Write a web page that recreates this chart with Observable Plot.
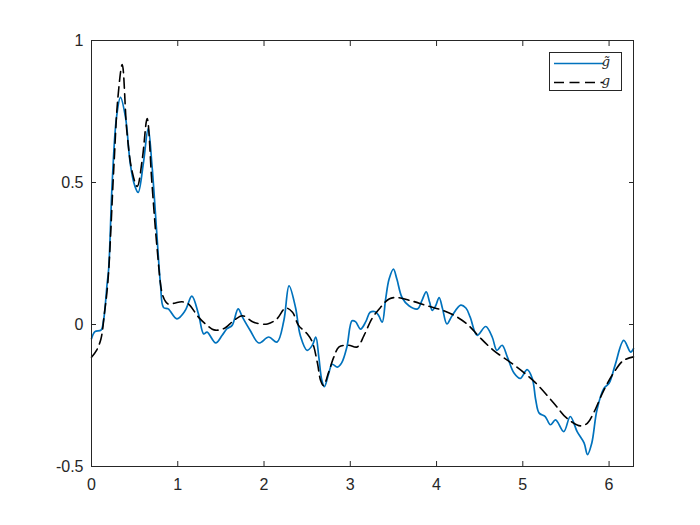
<!DOCTYPE html>
<html>
<head>
<meta charset="utf-8">
<script src="https://cdn.jsdelivr.net/npm/d3@7"></script>
<script src="https://cdn.jsdelivr.net/npm/@observablehq/plot@0.6"></script>
<style>
  html, body { margin: 0; padding: 0; background: #fff; }
  #chart { width: 700px; height: 525px; }
</style>
</head>
<body>
<div id="chart"></div>
<script>
// g-tilde (blue, solid)
const tTilde = [0,0.04,0.11,0.14,0.18,0.2,0.24,0.29,0.336,0.394,0.45,0.50,0.541,0.60,0.657,0.70,0.755,0.80,0.835,0.89,0.99,1.086,1.163,1.24,1.30,1.34,1.44,1.515,1.57,1.63,1.70,1.75,1.84,1.94,2.055,2.15,2.23,2.29,2.365,2.42,2.50,2.56,2.60,2.635,2.67,2.70,2.75,2.79,2.85,2.90,2.96,3.02,3.06,3.12,3.18,3.23,3.29,3.33,3.37,3.41,3.45,3.50,3.54,3.60,3.68,3.78,3.83,3.88,3.92,3.95,3.99,4.03,4.07,4.12,4.18,4.28,4.34,4.39,4.47,4.57,4.645,4.70,4.76,4.82,4.90,4.97,5.05,5.11,5.15,5.19,5.26,5.32,5.38,5.475,5.55,5.63,5.71,5.75,5.80,5.86,5.94,6.00,6.07,6.17,6.25,6.283];
const gTilde = [-0.05,-0.025,-0.02,0.015,0.14,0.2,0.5,0.73,0.80,0.73,0.565,0.49,0.465,0.565,0.69,0.565,0.33,0.14,0.06,0.055,0.02,0.049,0.10,0.037,-0.033,-0.027,-0.065,-0.038,-0.015,-0.003,0.055,0.026,-0.021,-0.065,-0.044,-0.062,0.014,0.136,0.06,-0.038,-0.091,-0.073,-0.044,-0.114,-0.196,-0.219,-0.172,-0.14,-0.15,-0.135,-0.08,0.013,0.01,-0.016,0.01,0.043,0.045,0.031,0.008,0.09,0.16,0.195,0.16,0.095,0.066,0.055,0.084,0.115,0.078,0.05,0.066,0.095,0.055,0.002,0.031,0.068,0.058,0.026,-0.038,-0.007,-0.044,-0.091,-0.073,-0.114,-0.172,-0.19,-0.159,-0.19,-0.266,-0.312,-0.324,-0.353,-0.336,-0.377,-0.324,-0.377,-0.417,-0.458,-0.417,-0.30,-0.225,-0.207,-0.143,-0.056,-0.097,-0.085];

// g (black, dashed)
const tExact = [0,0.06,0.11,0.15,0.19,0.26,0.305,0.356,0.41,0.47,0.53,0.59,0.645,0.70,0.76,0.82,0.86,0.89,0.96,1.05,1.125,1.24,1.34,1.42,1.53,1.65,1.75,1.88,2.04,2.15,2.25,2.33,2.40,2.50,2.56,2.62,2.655,2.69,2.75,2.81,2.87,2.98,3.08,3.16,3.25,3.35,3.45,3.54,3.70,3.89,4.08,4.24,4.37,4.50,4.66,4.90,5.13,5.36,5.51,5.67,5.75,5.82,5.94,6.06,6.17,6.283];
const gExact = [-0.115,-0.09,-0.05,0.04,0.15,0.56,0.795,0.915,0.68,0.54,0.486,0.585,0.725,0.50,0.27,0.108,0.08,0.072,0.075,0.08,0.072,0.026,-0.003,-0.019,-0.015,0.014,0.031,0.008,0.002,0.02,0.058,0.043,-0.003,-0.033,-0.062,-0.137,-0.196,-0.215,-0.167,-0.114,-0.079,-0.073,-0.079,-0.038,0.02,0.06,0.09,0.095,0.084,0.066,0.049,0.026,-0.003,-0.045,-0.091,-0.143,-0.20,-0.277,-0.33,-0.357,-0.347,-0.312,-0.231,-0.167,-0.126,-0.114];

const xTicks = [0, 1, 2, 3, 4, 5, 6];
const yTicks = [-0.5, 0, 0.5, 1];
const seriesLabels = ["g\u0303", "g"];

const tildeData = tTilde.map((t, i) => ({t, v: gTilde[i]}));
const exactData = tExact.map((t, i) => ({t, v: gExact[i]}));

const axisColor = "#262626";
const blue = "#0072BD";
const tickFont = 16;

const plot = Plot.plot({
  width: 700,
  height: 525,
  marginLeft: 91,
  marginRight: 67,
  marginTop: 40,
  marginBottom: 59,
  style: {fontFamily: "'Liberation Sans', Arial, Helvetica, sans-serif", fontSize: "16px", color: axisColor, background: "#fff"},
  x: {domain: [0, 2 * Math.PI]},
  y: {domain: [-0.5, 1]},
  marks: [
    Plot.line(tildeData, {x: "t", y: "v", stroke: blue, strokeWidth: 1.7, curve: "catmull-rom"}),
    Plot.line(exactData, {x: "t", y: "v", stroke: "#000", strokeWidth: 1.6, strokeDasharray: "10,5.5", curve: "catmull-rom"}),
    Plot.frame({stroke: axisColor, strokeWidth: 1}),
    Plot.axisX(xTicks, {anchor: "bottom", tickSize: -5, tickPadding: 17, fontSize: tickFont, tickFormat: d => String(d), label: null, stroke: axisColor, fill: axisColor}),
    Plot.axisX(xTicks, {anchor: "top", tickSize: -5, tickFormat: () => "", label: null, stroke: axisColor}),
    Plot.axisY(yTicks, {anchor: "left", tickSize: -5, tickPadding: 13, fontSize: tickFont, tickFormat: d => String(d), label: null, stroke: axisColor, fill: axisColor}),
    Plot.axisY(yTicks, {anchor: "right", tickSize: -5, tickFormat: () => "", label: null, stroke: axisColor})
  ]
});

document.getElementById("chart").appendChild(plot);

// Legend box (inside axes, top-right)
const svg = d3.select(plot);
const lg = svg.append("g");
lg.append("rect").attr("x", 549.5).attr("y", 52.5).attr("width", 72).attr("height", 38)
  .attr("fill", "#fff").attr("stroke", axisColor).attr("stroke-width", 1);
lg.append("line").attr("x1", 554).attr("x2", 603).attr("y1", 63.5).attr("y2", 63.5)
  .attr("stroke", blue).attr("stroke-width", 1.7);
lg.append("line").attr("x1", 554).attr("x2", 603).attr("y1", 82.5).attr("y2", 82.5)
  .attr("stroke", "#000").attr("stroke-width", 1.6).attr("stroke-dasharray", "10,5.5");
lg.selectAll("text.lbl").data(seriesLabels).join("text")
  .attr("x", 606).attr("y", (d, i) => i === 0 ? 66 : 85)
  .attr("font-family", "'DejaVu Serif', 'Liberation Serif', serif")
  .attr("font-style", "italic").attr("font-size", 13).attr("fill", axisColor)
  .text(d => d);
</script>
</body>
</html>
